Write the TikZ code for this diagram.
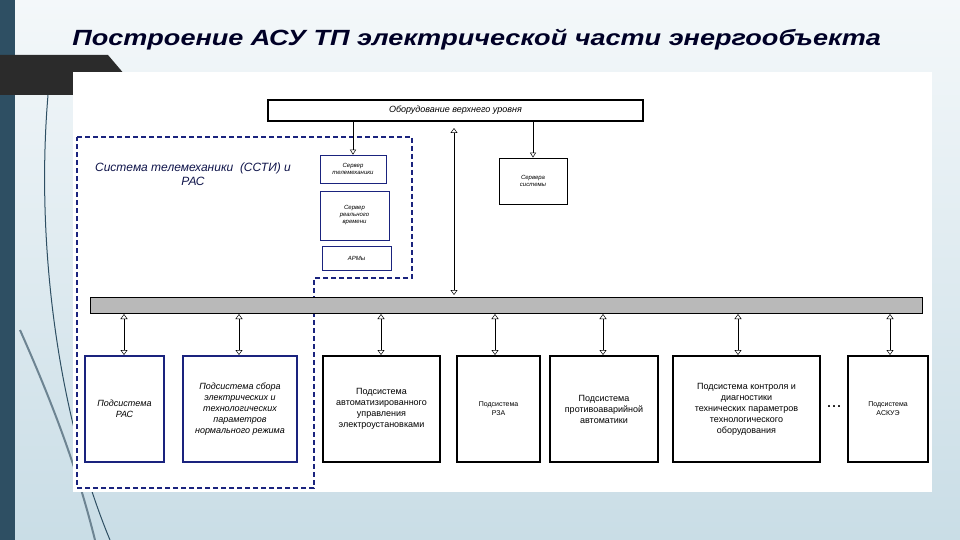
\documentclass[tikz,border=0pt]{standalone}
\usepackage{fontspec}
\setmainfont{Liberation Sans}
\usetikzlibrary{arrows.meta}
\definecolor{sidebar}{HTML}{2E4F63}
\definecolor{bgA}{HTML}{F4F8FA}
\definecolor{bgB}{HTML}{C9DDE6}
\definecolor{navy}{HTML}{1A237E}
\definecolor{tab}{HTML}{2B2B2B}
\begin{document}
\begin{tikzpicture}[x=1pt,y=-1pt,
  box/.style={draw=black,line width=1.1pt,fill=white,align=center,inner sep=1pt,font=\fontsize{9}{11}\selectfont},
  bbox/.style={box,draw=navy,font=\fontsize{9}{11}\selectfont\itshape},
  sbox/.style={draw=navy,line width=0.5pt,fill=white,align=center,inner sep=1pt,font=\fontsize{6}{7}\selectfont\itshape},
  dbl/.style={{Triangle[open,width=7pt,length=5pt]}-{Triangle[open,width=7pt,length=5pt]},line width=0.5pt},
  one/.style={-{Triangle[open,width=6pt,length=5pt]},line width=0.5pt}]
\useasboundingbox (0,0) rectangle (960,540);
\shade[top color=bgA,bottom color=bgB] (0,0) rectangle (960,540);
\fill[sidebar] (0,0) rectangle (15,540);
\draw[sidebar,line width=1pt] (48,95) .. controls (35,250) and (60,420) .. (110,540);
\draw[sidebar!70,line width=2pt] (20,330) .. controls (60,420) and (80,480) .. (95,540);
\fill[tab] (0,55) -- (108,55) -- (125,75) -- (73,75) -- (73,95) -- (0,95) -- cycle;
\fill[white] (73,72) rectangle (932,492);
\node[font=\fontsize{22}{26}\selectfont\bfseries\itshape,text=black!85!blue,anchor=west,xscale=1.23] (title) at (68,40) {Построение АСУ ТП электрической части энергообъекта};
% top
\node[box,minimum width=375pt,minimum height=21pt,font=\fontsize{9}{11}\selectfont\itshape] (top) at (455.5,110.5) {Оборудование верхнего уровня};
\draw[navy,dashed,line width=1.8pt,dash pattern=on 5pt off 3pt] (77,137) -- (412,137) -- (412,278) -- (314,278) -- (314,488) -- (77,488) -- cycle;
\node[font=\fontsize{12}{14}\selectfont\itshape,align=center,text=navy!60!black] (sys) at (193,174) {Система телемеханики \ (ССТИ) и\\РАС};
\node[sbox,minimum width=66pt,minimum height=28pt] (stm) at (353,169) {Сервер\\телемеханики};
\node[sbox,minimum width=69pt,minimum height=49pt] (srv) at (354.5,215.5) {Сервер\\реального\\времени};
\node[sbox,minimum width=69pt,minimum height=24pt] (arm) at (356.5,258) {АРМы};
\node[draw=black,line width=0.7pt,fill=white,align=center,minimum width=68pt,minimum height=46pt,font=\fontsize{6}{7}\selectfont\itshape] (ss) at (533,181) {Сервера\\системы};
\draw[one] (top.south -| stm) -- (stm.north);
\draw[one] (top.south -| ss) -- (ss.north);
% bus
\node[draw=black,fill=gray!55,line width=0.8pt,minimum width=832pt,minimum height=16pt,inner sep=0pt] (bus) at (506,305) {};
\coordinate (tv) at (454,128);
\draw[dbl] (tv) -- (454,295);
% bottom boxes
\node[bbox,minimum width=79pt,minimum height=106pt] (b1) at (124.5,409) {Подсистема\\РАС};
\node[bbox,minimum width=114pt,minimum height=106pt] (b2) at (240,409) {Подсистема сбора\\электрических и\\технологических\\параметров\\нормального режима};
\node[box,minimum width=117pt,minimum height=106pt] (b3) at (381.5,409) {Подсистема\\автоматизированного\\управления\\электроустановками};
\node[box,minimum width=83pt,minimum height=106pt,font=\fontsize{7}{9}\selectfont] (b4) at (498.5,409) {Подсистема\\РЗА};
\node[box,minimum width=108pt,minimum height=106pt] (b5) at (604,409) {Подсистема\\противоаварийной\\автоматики};
\node[box,minimum width=147pt,minimum height=106pt] (b6) at (746.5,409) {Подсистема контроля и\\диагностики\\технических параметров\\технологического\\оборудования};
\node[box,minimum width=80pt,minimum height=106pt,font=\fontsize{7}{9}\selectfont] (b7) at (888,409) {Подсистема\\АСКУЭ};
\node[font=\fontsize{18}{18}\selectfont] (dots) at (834,407) {...};
\foreach \b/\x in {b1/124,b2/239,b3/381,b4/495,b5/603,b6/738,b7/890}
  \draw[dbl] (\x,314) -- (\x,355);
\end{tikzpicture}
\end{document}
